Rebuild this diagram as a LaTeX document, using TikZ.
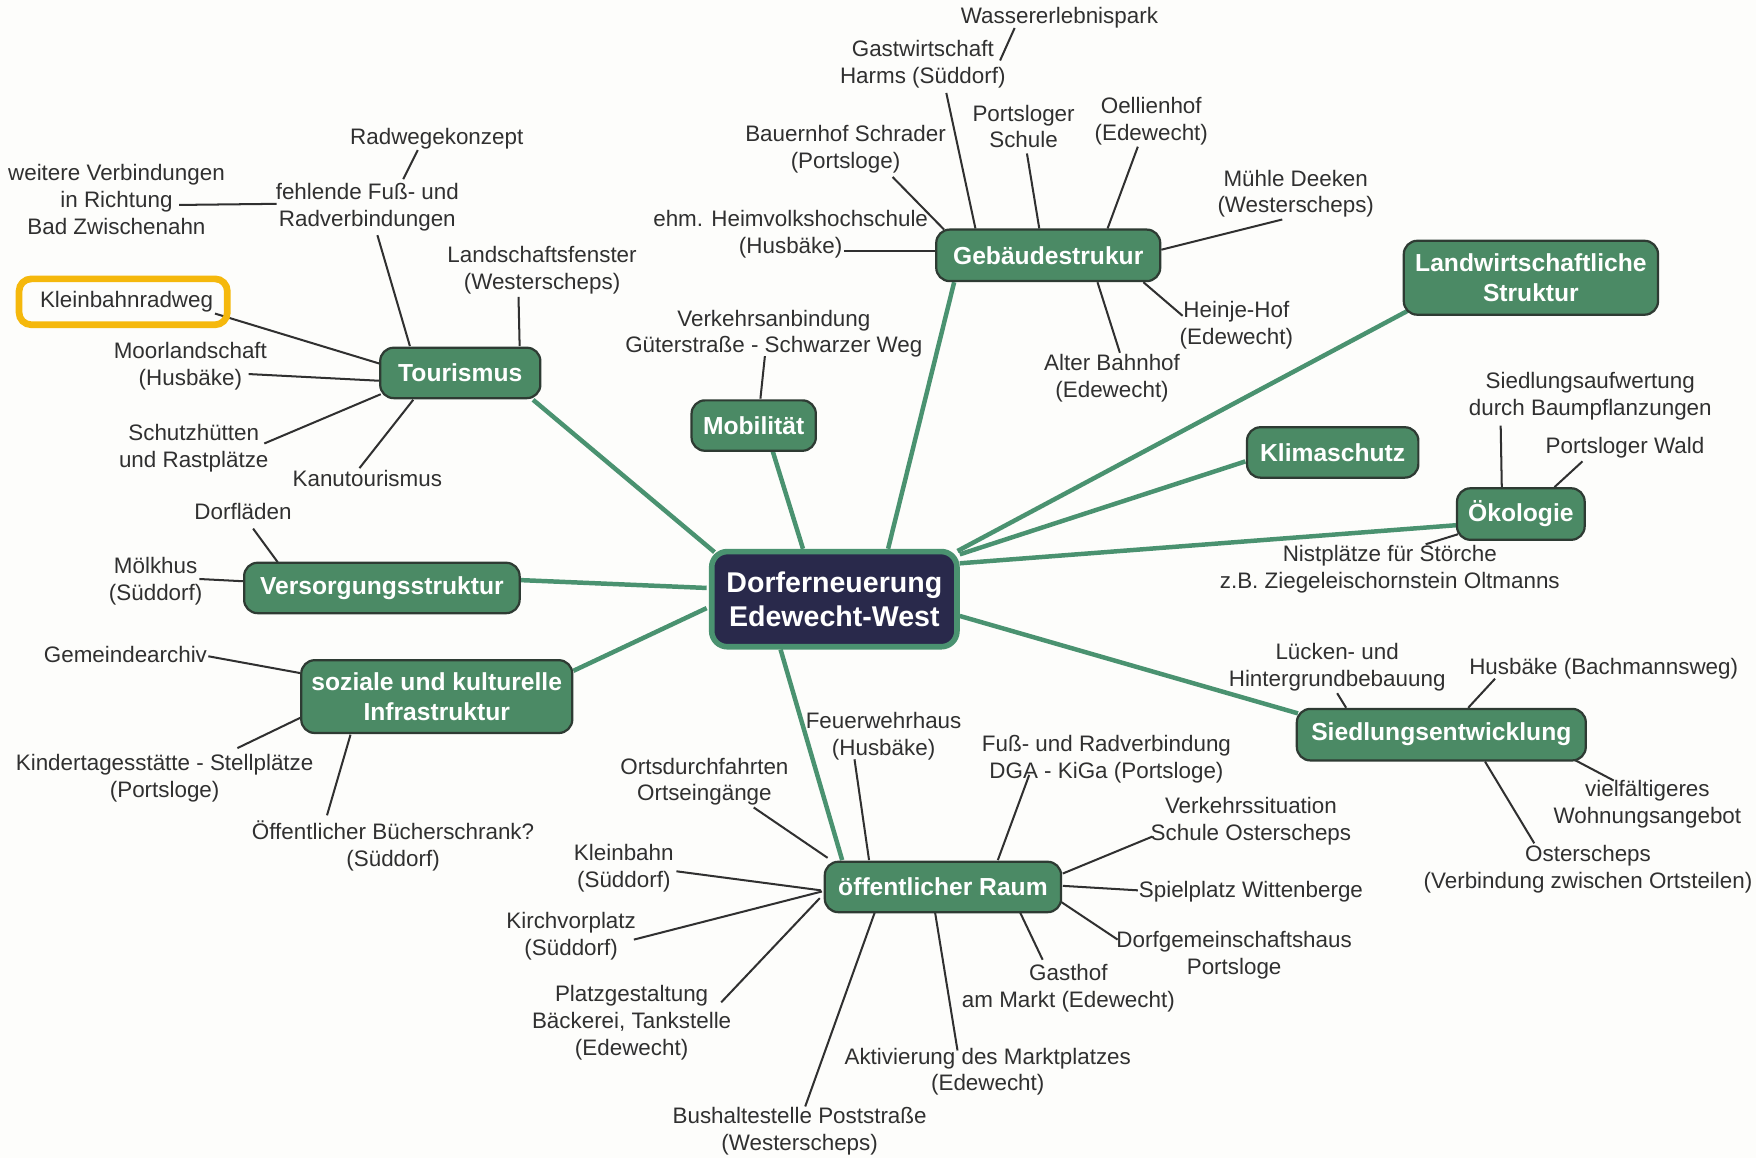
\documentclass[tikz,border=0pt]{standalone}
\usepackage{fontspec}
\setmainfont{Liberation Sans}
\usetikzlibrary{calc}
\definecolor{bgc}{HTML}{FDFDFB}
\definecolor{catfill}{HTML}{4B8A65}
\definecolor{catdraw}{HTML}{2E3B33}
\definecolor{mainline}{HTML}{4A9270}
\definecolor{ctrfill}{HTML}{29294B}
\definecolor{txt}{HTML}{303030}
\definecolor{hl}{HTML}{F5B80C}
\pgfdeclarelayer{bglayer}
\pgfsetlayers{bglayer,main}
\tikzset{
 cat/.style={draw=catdraw, line width=2pt, fill=catfill, rounded corners=12pt, text=white, font=\fontsize{22}{27}\selectfont\bfseries, align=center, inner sep=0pt},
 ctr/.style={draw=mainline, line width=5pt, fill=ctrfill, rounded corners=14pt, text=white, font=\fontsize{25.5}{30}\selectfont\bfseries, align=center, inner sep=0pt},
 lbl/.style={text=txt, font=\fontsize{20}{24}\selectfont, align=center, inner sep=0pt},
 hlbox/.style={draw=hl, line width=6pt, rounded corners=11pt},
 mainedge/.style={draw=mainline, line width=4pt},
 leafedge/.style={draw=txt, line width=1.8pt},
}
\newcommand\myleaf[4]{\draw[leafedge] ($(#1)+#2$) -- ($(#3)+#4$);}
\newcommand\mymain[4]{\draw[mainedge] ($(#1)+#2$) -- ($(#3)+#4$);}
\begin{document}
\begin{tikzpicture}[x=1pt,y=-1pt]
\useasboundingbox (0,0) rectangle (1568,1034);
% centre and categories
\node[ctr, minimum width=219pt, minimum height=85pt] (C) at (745,535) {Dorferneuerung\\Edewecht-West};
\node[cat, minimum width=200pt, minimum height=46pt] (G) at (936,228) {Gebäudestrukur};
\node[cat, minimum width=227pt, minimum height=66pt] (L) at (1367,248) {Landwirtschaftliche\\Struktur};
\node[cat, minimum width=143pt, minimum height=45pt] (T) at (411,333) {Tourismus};
\node[cat, minimum width=111pt, minimum height=45pt] (M) at (673,380) {Mobilität};
\node[cat, minimum width=153pt, minimum height=45pt] (K) at (1190,404) {Klimaschutz};
\node[cat, minimum width=114pt, minimum height=46pt] (O) at (1358,459) {Ökologie};
\node[cat, minimum width=246pt, minimum height=45pt] (V) at (341,525) {Versorgungsstruktur};
\node[cat, minimum width=242pt, minimum height=65pt] (Z) at (390,622) {soziale und kulturelle\\Infrastruktur};
\node[cat, minimum width=258pt, minimum height=46pt] (S) at (1287,656) {Siedlungsentwicklung};
\node[cat, minimum width=211pt, minimum height=45pt] (R) at (842,792) {öffentlicher Raum};
% Tourismus labels
\node[lbl] (radw) at (390,124) {Radwegekonzept};
\node[lbl] (fehl) at (328,185) {fehlende Fuß- und\\Radverbindungen};
\node[lbl] (weit) at (104,178) {weitere Verbindungen\\in Richtung\\Bad Zwischenahn};
\node[lbl] (lsf) at (484,241) {Landschaftsfenster\\(Westerscheps)};
\node[lbl, hlbox, minimum width=186pt, minimum height=41pt] (kbr) at (110,269.5) {\hspace{6pt}Kleinbahnradweg};
\node[lbl] (moor) at (170,327) {Moorlandschaft\\(Husbäke)};
\node[lbl] (schutz) at (173,400) {Schutzhütten\\und Rastplätze};
\node[lbl] (kanu) at (328,427) {Kanutourismus};
% Mobilitaet
\node[lbl] (verk) at (691,298) {Verkehrsanbindung\\Güterstraße - Schwarzer Weg};
% Gebaeude
\node[lbl] (wass) at (946,16) {Wassererlebnispark};
\node[lbl] (gast) at (824,57) {Gastwirtschaft\\Harms (Süddorf)};
\node[lbl] (port) at (914,113) {Portsloger\\Schule};
\node[lbl] (oell) at (1028,108) {Oellienhof\\(Edewecht)};
\node[lbl] (bauer) at (755,133) {Bauernhof Schrader\\(Portsloge)};
\node[lbl] (ehm) at (706,209) {ehm. Heimvolkshochschule\\(Husbäke)};
\node[lbl] (muehle) at (1157,173) {Mühle Deeken\\(Westerscheps)};
\node[lbl] (heinje) at (1104,290) {Heinje-Hof\\(Edewecht)};
\node[lbl] (alter) at (993,338) {Alter Bahnhof\\(Edewecht)};
% Oekologie
\node[lbl] (sa) at (1420,354) {Siedlungsaufwertung\\durch Baumpflanzungen};
\node[lbl] (wald) at (1451,400) {Portsloger Wald};
\node[lbl] (nist) at (1241,508) {Nistplätze für Störche\\z.B. Ziegeleischornstein Oltmanns};
% Siedlung
\node[lbl] (luecken) at (1194,596) {Lücken- und\\Hintergrundbebauung};
\node[lbl] (husb) at (1432,597) {Husbäke (Bachmannsweg)};
\node[lbl] (vielf) at (1471,718) {vielfältigeres\\Wohnungsangebot};
\node[lbl] (oster) at (1418,776) {Osterscheps\\(Verbindung zwischen Ortsteilen)};
% Versorgung
\node[lbl] (dorf) at (217,457) {Dorfläden};
\node[lbl] (moelk) at (139,519) {Mölkhus\\(Süddorf)};
% Soziale
\node[lbl] (gem) at (112,584) {Gemeindearchiv};
\node[lbl] (kita) at (147,695) {Kindertagesstätte - Stellplätze\\(Portsloge)};
\node[lbl] (buech) at (351,755) {Öffentlicher Bücherschrank?\\(Süddorf)};
% oeffentlicher Raum
\node[lbl] (feuer) at (789,657) {Feuerwehrhaus\\(Husbäke)};
\node[lbl] (fuss) at (988,678) {Fuß- und Radverbindung\\DGA - KiGa (Portsloge)};
\node[lbl] (verks) at (1117,733) {Verkehrssituation\\Schule Osterscheps};
\node[lbl] (spiel) at (1117,796) {Spielplatz Wittenberge};
\node[lbl] (dgh) at (1102,853) {Dorfgemeinschaftshaus\\Portsloge};
\node[lbl] (gasth) at (954,882) {Gasthof\\am Markt (Edewecht)};
\node[lbl] (aktiv) at (882,957) {Aktivierung des Marktplatzes\\(Edewecht)};
\node[lbl] (bus) at (714,1010) {Bushaltestelle Poststraße\\(Westerscheps)};
\node[lbl] (platz) at (564,913) {Platzgestaltung\\Bäckerei, Tankstelle\\(Edewecht)};
\node[lbl] (kirch) at (510,836) {Kirchvorplatz\\(Süddorf)};
\node[lbl] (kleinb) at (557,775) {Kleinbahn\\(Süddorf)};
\node[lbl] (orts) at (629,698) {Ortsdurchfahrten\\Ortseingänge};

\begin{pgfonlayer}{bglayer}
\fill[bgc] (0,0) rectangle (1568,1034);
% main connectors
\mymain{T}{(65,24)}{C}{(-107,-42)}
\mymain{M}{(17,23)}{C}{(-28,-45)}
\mymain{G}{(-84,24)}{C}{(48,-45)}
\mymain{L}{(-109,29)}{C}{(110,-43)}
\mymain{K}{(-78,8)}{C}{(112,-40)}
\mymain{O}{(-58,10)}{C}{(112,-32)}
\mymain{S}{(-128,-19)}{C}{(112,15)}
\mymain{V}{(124,-7)}{C}{(-114,-10)}
\mymain{Z}{(122,-23)}{C}{(-114,8)}
\mymain{C}{(-48,45)}{R}{(-90,-24)}
% Tourismus
\myleaf{radw}{(-17,10)}{fehl}{(32,-25)}
\myleaf{weit}{(56,5)}{fehl}{(-81,-3)}
\myleaf{fehl}{(9,25)}{T}{(-45,-24)}
\myleaf{lsf}{(-21,24)}{T}{(53,-24)}
\myleaf{kbr}{(82,10.5)}{T}{(-71,-8)}
\myleaf{moor}{(52,7)}{T}{(-72,7)}
\myleaf{schutz}{(63,-4)}{T}{(-71,19)}
\myleaf{kanu}{(-7,-9)}{T}{(-42,24)}
% Mobilitaet
\myleaf{verk}{(-8,20)}{M}{(6,-24)}
% Gebaeude
\myleaf{wass}{(-40,9)}{gast}{(69,-3)}
\myleaf{gast}{(21,26)}{G}{(-65,-24)}
\myleaf{port}{(3,24)}{G}{(-8,-24)}
\myleaf{oell}{(-12,23)}{G}{(53,-24)}
\myleaf{bauer}{(42,25)}{G}{(-93,-23)}
\myleaf{ehm}{(48,15)}{G}{(-101,-4)}
\myleaf{muehle}{(-12,23)}{G}{(101,-5)}
\myleaf{heinje}{(-48,-8)}{G}{(85,24)}
\myleaf{alter}{(7,-23)}{G}{(44,24)}
% Oekologie
\myleaf{sa}{(-80,26)}{O}{(-17,-24)}
\myleaf{wald}{(-38,12)}{O}{(30,-24)}
\myleaf{nist}{(32,-22)}{O}{(-56,18)}
% Siedlung
\myleaf{luecken}{(0,23)}{S}{(-85,-24)}
\myleaf{husb}{(-97,9)}{S}{(24,-24)}
\myleaf{vielf}{(-30,-21)}{S}{(118,22)}
\myleaf{oster}{(-48,-23)}{S}{(39,24)}
% Versorgung
\myleaf{dorf}{(9,15)}{V}{(-93,-23)}
\myleaf{moelk}{(39,-2)}{V}{(-124,-6)}
% Soziale
\myleaf{gem}{(74,2)}{Z}{(-122,-21)}
\myleaf{kita}{(65,-27)}{Z}{(-122,19)}
\myleaf{buech}{(-59,-27)}{Z}{(-77,34)}
% oeffentlicher Raum
\myleaf{feuer}{(-26,21)}{R}{(-66,-24)}
\myleaf{fuss}{(-69,14)}{R}{(49,-24)}
\myleaf{verks}{(-88,14)}{R}{(107,-12)}
\myleaf{spiel}{(-101,-1)}{R}{(107,-1)}
\myleaf{dgh}{(-104,-14)}{R}{(105,13)}
\myleaf{gasth}{(-23,-25)}{R}{(69,23)}
\myleaf{aktiv}{(-27,-19)}{R}{(-7,23)}
\myleaf{bus}{(5,-22)}{R}{(-61,23)}
\myleaf{platz}{(80,-18)}{R}{(-110,10)}
\myleaf{kirch}{(56,3)}{R}{(-108,4)}
\myleaf{kleinb}{(47,3)}{R}{(-109,3)}
\myleaf{orts}{(44,23)}{R}{(-103,-26)}
\end{pgfonlayer}
\end{tikzpicture}
\end{document}
